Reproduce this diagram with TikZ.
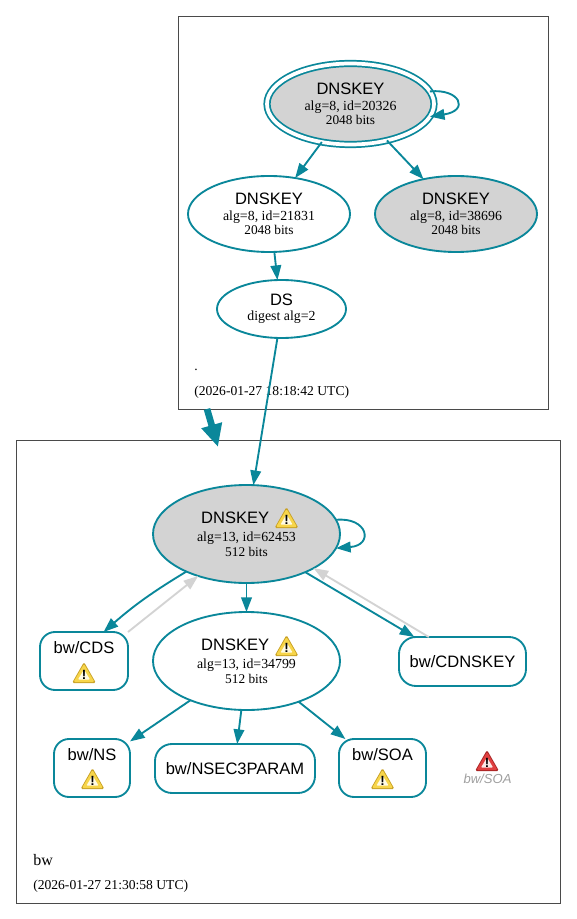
\documentclass[tikz,border=0pt]{standalone}
\usepackage{fontspec}
\setmainfont{Liberation Serif}
\setsansfont{Liberation Sans}
\usetikzlibrary{arrows.meta,shapes.geometric}
\definecolor{dnsTeal}{HTML}{0A879A}
\definecolor{cardGrey}{HTML}{D3D3D3}
\definecolor{zoneLine}{HTML}{4A4A4A}
\definecolor{warnEdge}{HTML}{C9A227}
\definecolor{warnFill}{HTML}{F7D54A}
\definecolor{warnGlow}{HTML}{FFFBE6}
\definecolor{errEdge}{HTML}{A82424}
\definecolor{errFill}{HTML}{E04040}
\definecolor{errGlow}{HTML}{FBE9E7}
\newcommand{\namefont}{\fontsize{12.4}{16}\selectfont\sffamily}
\newcommand{\infofont}{\fontsize{10.4}{9.6}\selectfont\rmfamily}
\newcommand{\dnskeytext}[3][-0.7pt]{\namefont #2\\[#1]\infofont #3}
\newcommand{\iconname}{\mbox{DNSKEY\kern17pt}}
\tikzset{
  keynode/.style n args={2}{ellipse, draw=dnsTeal, line width=1.4pt, inner sep=0pt, outer sep=0pt, align=center, minimum width=#1*0.75pt, minimum height=#2*0.75pt},
  rrnode/.style n args={3}{rectangle, rounded corners=#3*0.75pt, draw=dnsTeal, line width=1.4pt, inner sep=0pt, outer sep=0pt, align=center, font=\namefont, minimum width=#1*0.75pt, minimum height=#2*0.75pt},
  zonebox/.style n args={2}{rectangle, draw=zoneLine, line width=0.6pt, inner sep=0pt, outer sep=0pt, minimum width=#1*0.75pt, minimum height=#2*0.75pt},
  zonetext/.style={anchor=west, inner sep=0pt, font=\fontsize{10.2}{12}\selectfont\rmfamily},
  link/.style={-{Triangle[length=11pt,width=8pt]}, line width=1.4pt, dnsTeal},
  greylink/.style={-{Triangle[length=11pt,width=8pt]}, line width=1.4pt, cardGrey},
  zonelink/.style={-{Triangle[length=17pt,width=15pt]}, line width=5pt, dnsTeal},
  pics/warnicon/.style n args={3}{code={
    \fill[#1, rounded corners=1.2pt] (0,-11) -- (12,10) -- (-12,10) -- cycle;
    \fill[#2, rounded corners=1pt] (0,-9) -- (10.5,9) -- (-10.5,9) -- cycle;
    \fill[#3, rounded corners=0.6pt] (0,-3.5) -- (6,6.5) -- (-6,6.5) -- cycle;
    \node[inner sep=0pt, font=\fontsize{10}{10}\selectfont\sffamily\bfseries] at (0,1.5) {!};
  }}
}
\begin{document}
\begin{tikzpicture}[x=0.75pt, y=-0.75pt]
    \useasboundingbox (0,0) rectangle (576,919);
    \node[zonebox={370}{393}] (rootZone) at (363,212.5) {};
    \node[zonebox={544}{463}] (bwZone) at (288,671.5) {};
    \node[zonetext] (rootName) at (194,370) {.};
    \node[zonetext] (rootTime) at (194,392) {(2026-01-27 18:18:42 UTC)};
    \node[zonetext, font=\fontsize{12}{14}\selectfont\rmfamily] (bwName) at (33,860) {bw};
    \node[zonetext] (bwTime) at (33,886) {(2026-01-27 21:30:58 UTC)};

    \node[keynode={167}{81}, fill=cardGrey, double=white, double distance=2.8pt, line width=1.3pt] (key20326) at (350.5,104) {\dnskeytext{DNSKEY}{alg=8, id=20326\\[-1.2pt]2048 bits}};
    \node[keynode={162}{76}] (key21831) at (269,214) {\dnskeytext{DNSKEY}{alg=8, id=21831\\[-1.2pt]2048 bits}};
    \node[keynode={162}{76}, fill=cardGrey] (key38696) at (456,214) {\dnskeytext{DNSKEY}{alg=8, id=38696\\[-1.2pt]2048 bits}};
    \node[keynode={129}{58}] (dsRoot) at (281.5,309) {\dnskeytext{DS}{digest alg=2}};
    \node[keynode={187}{98}, fill=cardGrey] (key62453) at (246.5,534) {\dnskeytext[1.4pt]{\iconname}{alg=13, id=62453\\[-0.8pt]512 bits}};
    \node[keynode={187}{98}] (key34799) at (246.5,661) {\dnskeytext[1.4pt]{\iconname}{alg=13, id=34799\\[-0.8pt]512 bits}};

    \node[rrnode={88}{58}{15}] (rrCDS) at (84,661) {bw/CDS\\[4pt]\mbox{}};
    \node[rrnode={127}{49}{17}] (rrCDNSKEY) at (462.5,661.5) {bw/CDNSKEY};
    \node[rrnode={76}{58}{15}] (rrNS) at (92,768) {bw/NS\\[4pt]\mbox{}};
    \node[rrnode={160}{49}{17}] (rrNSEC) at (235,768.5) {bw/NSEC3PARAM};
    \node[rrnode={87}{58}{15}] (rrSOA) at (382.5,768) {bw/SOA\\[4pt]\mbox{}};
    \node[inner sep=0pt, gray!75, font=\fontsize{9.8}{12}\selectfont\sffamily\itshape] (errSOA) at (487.5,778.5) {bw/SOA};

    \pic at (286.5,518) {warnicon={warnEdge}{warnFill}{warnGlow}};
    \pic at (286.5,646) {warnicon={warnEdge}{warnFill}{warnGlow}};
    \pic at (84,673) {warnicon={warnEdge}{warnFill}{warnGlow}};
    \pic at (92.5,779) {warnicon={warnEdge}{warnFill}{warnGlow}};
    \pic at (382.5,779) {warnicon={warnEdge}{warnFill}{warnGlow}};
    \pic at (487,761) {warnicon={errEdge}{errFill}{errGlow}};

    \coordinate (zoneFrom) at (207,409);
    \coordinate (zoneTo) at (218,447);
    \draw[zonelink] (zoneFrom) -- (zoneTo);

    \draw[link] (key20326.9) .. controls +(30,-3) and +(40,-6) .. (key20326.-9);
    \draw[link] (key20326.233) -- (key21831.54);
    \draw[link] (key20326.-45) -- (key38696.133);
    \draw[link] (key21831.-82) -- (dsRoot.98);
    \draw[link] (dsRoot.-98) -- (key62453.82);
    \draw[link] (key62453.9) .. controls +(32,-3) and +(38,-3) .. (key62453.-9);
    \draw[link] (key62453.south) -- (key34799.north);
    \draw[link] (key62453.212) to[bend right=5] (rrCDS.56);
    \draw[greylink] (rrCDS.north east) -- (key62453.221);
    \draw[link] (key62453.-33) -- (rrCDNSKEY.153);
    \draw[greylink] (rrCDNSKEY.144) -- (key62453.-27);
    \draw[link] (key34799.215) -- (rrNS.35);
    \draw[link] (key34799.264) -- (rrNSEC.85);
    \draw[link] (key34799.-38) -- (rrSOA.142);
  \end{tikzpicture}
\end{document}
